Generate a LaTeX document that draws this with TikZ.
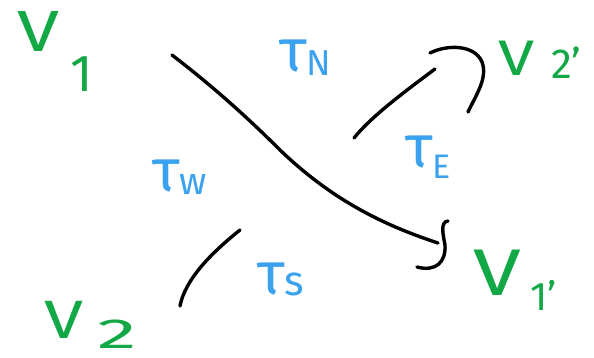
\documentclass[tikz,border=0pt]{standalone}
\usepackage{fontspec}
\setmainfont{Fira Sans}
\definecolor{vgreen}{HTML}{12A845}
\definecolor{tblue}{HTML}{3AA2EE}
\newcommand{\wideV}{\scalebox{1.3}[1]{V}}
\begin{document}
\begin{tikzpicture}[x=1pt,y=-1pt,
  strand/.style={line width=3.4pt,line cap=round,line join=round,black},
  vlab/.style={text=vgreen,inner sep=0pt,font=\fontsize{58}{60}\selectfont},
  vsub/.style={text=vgreen,inner sep=0pt,font=\fontsize{44}{46}\selectfont},
  tlab/.style={text=tblue,inner sep=0pt,font=\fontsize{60}{62}\selectfont}]
\useasboundingbox (0,0) rectangle (594,358);
% vertex labels
\node[vlab] (v1) at (38,32) {\wideV};
\node[vsub,anchor=west,font=\fontsize{52}{54}\selectfont] (v1s) at (70,74) {1};
\node[vlab,font=\fontsize{50}{52}\selectfont] (v2p) at (517,58) {\wideV};
\node[vsub,anchor=west,font=\fontsize{42}{44}\selectfont] (v2ps) at (551,63) {2'};
\node[vlab,font=\fontsize{66}{68}\selectfont] (v1p) at (497,273) {\wideV};
\node[vsub,anchor=west,font=\fontsize{40}{42}\selectfont] (v1ps) at (530,295) {1'};
\node[vlab,font=\fontsize{54}{56}\selectfont] (v2) at (64,320) {\wideV};
\node[vsub,anchor=base west,font=\fontsize{42}{44}\selectfont] (v2s) at (97,348) {\scalebox{1.9}[1]{2}};
% region labels
\node[tlab,anchor=base west] (tn) at (279,72) {τ\raisebox{-4pt}{\fontsize{36}{38}\selectfont N}};
\node[tlab,anchor=base west] (tw) at (152,192) {τ\raisebox{-2pt}{\fontsize{38}{40}\selectfont w}};
\node[tlab,anchor=base west] (te) at (405,168) {τ\raisebox{-10pt}{\fontsize{34}{36}\selectfont E}};
\node[tlab,anchor=base west] (ts) at (257,294) {τ\raisebox{-1pt}{\fontsize{42}{44}\selectfont s}};
% strands
\coordinate (a1) at (172,55);
\coordinate (a2) at (438,243);
\draw[strand] (a1) .. controls (215,88) and (250,120) .. (280,150)
  .. controls (330,198) and (380,224) .. (a2);
\coordinate (h1) at (448,221);
\coordinate (h2) at (417,267);
\draw[strand] (h1) .. controls (440,222) and (443,234) .. (445,245)
  .. controls (446,262) and (436,272) .. (h2);
\coordinate (b1) at (354,138);
\coordinate (b2) at (435,69);
\draw[strand] (b1) .. controls (370,118) and (400,95) .. (b2);
\coordinate (c1) at (430,53);
\coordinate (c2) at (468,112);
\draw[strand] (c1) .. controls (448,44) and (475,45) .. (482,62)
  .. controls (488,78) and (476,95) .. (c2);
\coordinate (d1) at (240,230);
\coordinate (d2) at (180,306);
\draw[strand] (d1) .. controls (210,254) and (185,280) .. (d2);
\end{tikzpicture}
\end{document}
